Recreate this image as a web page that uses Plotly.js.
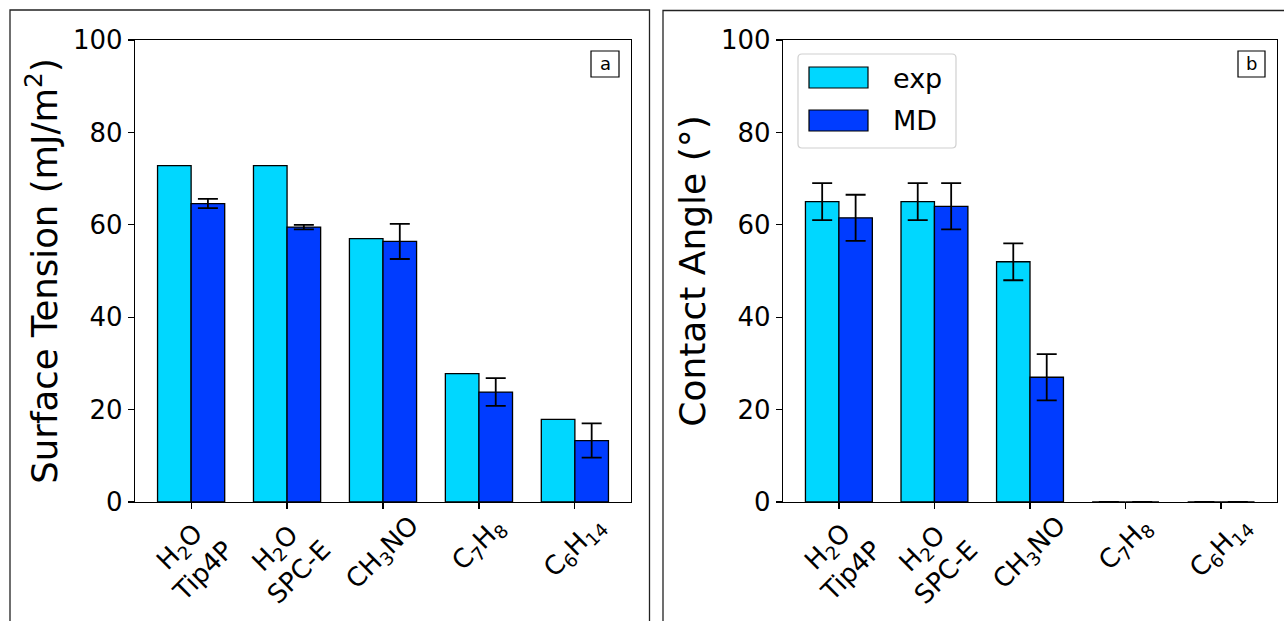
<!DOCTYPE html>
<html>
<head>
<meta charset="utf-8">
<script src="https://cdn.plot.ly/plotly-3.0.1.min.js"></script>
<style>
  html, body { margin: 0; padding: 0; background: #fff; }
  #chart { width: 1284px; height: 621px; }
</style>
</head>
<body>
<div id="chart"></div>
<script>
// ---- data ----
const categories = ["H<sub>2</sub>O<br>Tip4P", "H<sub>2</sub>O<br>SPC-E", "CH<sub>3</sub>NO", "C<sub>7</sub>H<sub>8</sub>", "C<sub>6</sub>H<sub>14</sub>"];
const positions = [0, 1, 2, 3, 4];

const tensionExp = [72.8, 72.8, 57.0, 27.8, 17.9];
const tensionMD = [64.6, 59.5, 56.4, 23.8, 13.3];
const tensionMDErr = [1.0, 0.5, 3.8, 3.0, 3.7];

const angleExp = [65, 65, 52, 0, 0];
const angleExpErr = [4, 4, 4, 0, 0];
const angleMD = [61.5, 64, 27, 0, 0];
const angleMDErr = [5, 5, 5, 0, 0];

const seriesNames = ["exp", "MD"];
const yTicks = [0, 20, 40, 60, 80, 100];
const panelLabels = ["a", "b"];

// ---- styles ----
const W = 1284, H = 621;
const px = x => x / W;
const py = y => 1 - y / H;
const FONT = "DejaVu Sans, Liberation Sans, sans-serif";
const C_EXP = "#00d7ff";
const C_MD = "#003cff";
const BW = 0.35;

function barTrace(x, y, err, color, xa, ya, offset, name) {
  const t = {
    type: "bar", x: x, y: y, name: name,
    xaxis: xa, yaxis: ya,
    width: BW, offset: offset,
    marker: { color: color, line: { color: "#000", width: 1.3 } },
    showlegend: false,
    hoverinfo: "y"
  };
  if (err) {
    t.error_y = { type: "data", array: err, visible: true, color: "#000", thickness: 1.8, width: 10 };
  }
  return t;
}

const traces = [
  barTrace(positions, tensionExp, null, C_EXP, "x", "y", -BW, seriesNames[0]),
  barTrace(positions, tensionMD, tensionMDErr, C_MD, "x", "y", 0, seriesNames[1]),
  barTrace(positions, angleExp, angleExpErr, C_EXP, "x2", "y2", -BW, seriesNames[0]),
  barTrace(positions, angleMD, angleMDErr, C_MD, "x2", "y2", 0, seriesNames[1])
];

function xaxisDef(domain, anchor) {
  return {
    domain: domain, anchor: anchor,
    range: [-0.585, 4.585],
    tickmode: "array", tickvals: positions,
    showticklabels: false,
    ticks: "outside", ticklen: 6, tickwidth: 1.2, tickcolor: "#000",
    showline: true, linecolor: "#000", linewidth: 1.2, mirror: true,
    showgrid: false, zeroline: false
  };
}
function yaxisDef(domain, anchor, title, size) {
  return {
    domain: domain, anchor: anchor,
    range: [0, 100],
    tickmode: "array", tickvals: yTicks,
    ticks: "outside", ticklen: 6, tickwidth: 1.2, tickcolor: "#000",
    showline: true, linecolor: "#000", linewidth: 1.2, mirror: true,
    showgrid: false, zeroline: false,
    tickfont: { family: FONT, size: 26, color: "#000" },
    title: { text: title, font: { family: FONT, size: size, color: "#000" }, standoff: 4 }
  };
}

// rotated category labels (centered under each tick, like rotation=45, ha=center)
const catLabels = [];
["x", "x2"].forEach(function (xr) {
  positions.forEach(function (p, i) {
    catLabels.push({
      xref: xr, yref: "paper", x: p, y: py(508),
      text: categories[i], showarrow: false, textangle: -45,
      xanchor: "center", yanchor: "top", align: "center",
      font: { family: FONT, size: 26, color: "#000" }
    });
  });
});

const yDom = [py(502), py(40)];
const layout = {
  width: W, height: H,
  margin: { l: 0, r: 0, t: 0, b: 0 },
  paper_bgcolor: "#fff", plot_bgcolor: "#fff",
  barmode: "overlay",
  showlegend: false,
  font: { family: FONT, color: "#000" },
  xaxis: xaxisDef([px(135), px(631)], "y"),
  yaxis: yaxisDef(yDom, "x", "Surface Tension (mJ/m<sup>2</sup>)", 35.5),
  xaxis2: xaxisDef([px(783), px(1277)], "y2"),
  yaxis2: yaxisDef(yDom, "x2", "Contact Angle (°)", 36),
  shapes: [
    // outer panel frames
    { type: "rect", xref: "paper", yref: "paper", x0: px(10), x1: px(649.5), y0: py(640), y1: py(10),
      line: { color: "#222", width: 1.3 }, fillcolor: "rgba(0,0,0,0)", layer: "below" },
    { type: "rect", xref: "paper", yref: "paper", x0: px(663), x1: px(1300), y0: py(640), y1: py(10.5),
      line: { color: "#222", width: 1.3 }, fillcolor: "rgba(0,0,0,0)", layer: "below" },
    // panel label boxes
    { type: "rect", xref: "paper", yref: "paper", x0: px(591), x1: px(619), y0: py(77), y1: py(51),
      line: { color: "#000", width: 1.2 }, fillcolor: "#fff" },
    { type: "rect", xref: "paper", yref: "paper", x0: px(1238), x1: px(1265), y0: py(77), y1: py(51),
      line: { color: "#000", width: 1.2 }, fillcolor: "#fff" },
    // legend box (rounded)
    { type: "path", xref: "paper", yref: "paper",
      path: (function () {
        const x0 = 798, x1 = 956, y0 = 54, y1 = 148, r = 4;
        const P = (x, y) => px(x) + "," + py(y);
        return "M" + P(x0 + r, y0) + " L" + P(x1 - r, y0) + " Q" + P(x1, y0) + " " + P(x1, y0 + r) +
          " L" + P(x1, y1 - r) + " Q" + P(x1, y1) + " " + P(x1 - r, y1) +
          " L" + P(x0 + r, y1) + " Q" + P(x0, y1) + " " + P(x0, y1 - r) +
          " L" + P(x0, y0 + r) + " Q" + P(x0, y0) + " " + P(x0 + r, y0) + " Z";
      })(),
      line: { color: "#d0d0d0", width: 1.2 }, fillcolor: "rgba(255,255,255,0.85)" },
    { type: "rect", xref: "paper", yref: "paper", x0: px(809), x1: px(868), y0: py(88), y1: py(67),
      line: { color: "#000", width: 1.2 }, fillcolor: C_EXP },
    { type: "rect", xref: "paper", yref: "paper", x0: px(809), x1: px(868), y0: py(131), y1: py(110),
      line: { color: "#000", width: 1.2 }, fillcolor: C_MD }
  ],
  annotations: catLabels.concat([
    { xref: "paper", yref: "paper", x: px(605), y: py(63), text: panelLabels[0], showarrow: false,
      font: { family: FONT, size: 18, color: "#000" }, xanchor: "center", yanchor: "middle" },
    { xref: "paper", yref: "paper", x: px(1251.5), y: py(63), text: panelLabels[1], showarrow: false,
      font: { family: FONT, size: 18, color: "#000" }, xanchor: "center", yanchor: "middle" },
    { xref: "paper", yref: "paper", x: px(891), y: py(78), text: seriesNames[0], showarrow: false,
      font: { family: FONT, size: 27, color: "#000" }, xanchor: "left", yanchor: "middle" },
    { xref: "paper", yref: "paper", x: px(891), y: py(121), text: seriesNames[1], showarrow: false,
      font: { family: FONT, size: 27, color: "#000" }, xanchor: "left", yanchor: "middle" }
  ])
};

Plotly.newPlot("chart", traces, layout, { displayModeBar: false, staticPlot: true });
</script>
</body>
</html>
